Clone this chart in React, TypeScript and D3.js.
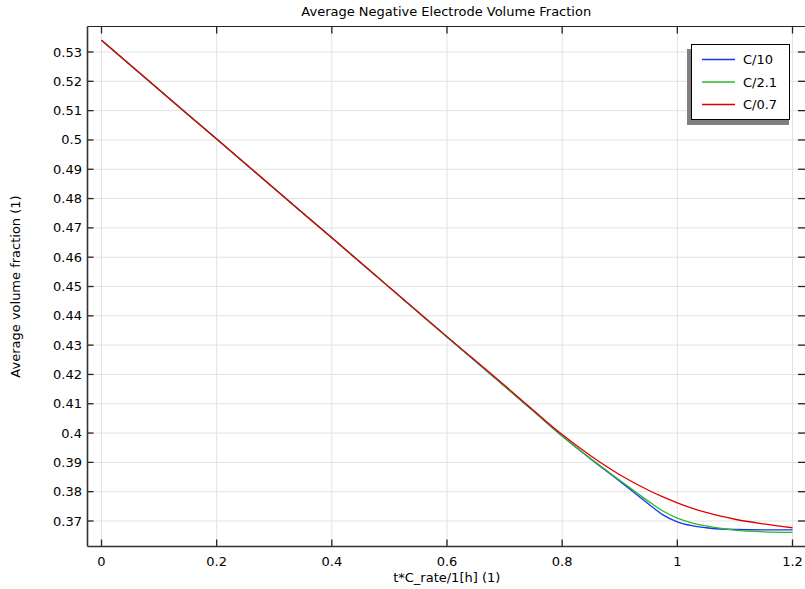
import React from "react";
import * as d3 from "d3";

const xs = [0, 0.1, 0.2, 0.3, 0.4, 0.5, 0.6, 0.7, 0.75, 0.8, 0.85, 0.9, 0.95, 0.975, 1.0, 1.025, 1.05, 1.1, 1.15, 1.2];
const c10 = [0.534, 0.5171, 0.5003, 0.4834, 0.4666, 0.4497, 0.4328, 0.416, 0.4075, 0.399, 0.3911, 0.3836, 0.3758, 0.3721, 0.3697, 0.3684, 0.3677, 0.3671, 0.367, 0.367];
const c21 = [0.534, 0.5171, 0.5003, 0.4834, 0.4666, 0.4497, 0.4328, 0.416, 0.4075, 0.399, 0.3912, 0.3839, 0.3767, 0.3734, 0.371, 0.3694, 0.3683, 0.3669, 0.3663, 0.3661];
const c07 = [0.534, 0.5171, 0.5003, 0.4834, 0.4666, 0.4497, 0.4329, 0.4163, 0.4078, 0.3995, 0.3922, 0.3858, 0.3805, 0.3782, 0.3762, 0.3744, 0.3729, 0.3706, 0.369, 0.3677];
const seriesNames = ["C/10", "C/2.1", "C/0.7"];
const seriesColors = ["#1a35f0", "#2cb82c", "#e00000"];
const xTicks = [0, 0.2, 0.4, 0.6, 0.8, 1, 1.2];
const yTicks = [0.37, 0.38, 0.39, 0.4, 0.41, 0.42, 0.43, 0.44, 0.45, 0.46, 0.47, 0.48, 0.49, 0.5, 0.51, 0.52, 0.53];

const W = 805, H = 589;
const L = 87.5, R = 806, T = 26.5, B = 546.5;
const font = "'DejaVu Sans', sans-serif";

export default function App() {
  const x = d3.scaleLinear().domain([0, 1.2]).range([101.5, 792.5]);
  const y = d3.scaleLinear().domain([0.37, 0.53]).range([521, 52]);
  const line = d3.line<number>().x((_, i) => x(xs[i])).y((d) => y(d)).curve(d3.curveMonotoneX);
  const all = [c10, c21, c07];
  const fmt = (v: number) => String(+v.toFixed(2));
  return (
    <div style={{ position: "absolute", left: 0, top: 0 }}>
      <svg width={W} height={H} style={{ display: "block", background: "#fff" }} fontFamily={font}>
        <defs>
          <clipPath id="pc"><rect x={L} y={T} width={R - L} height={B - T} /></clipPath>
        </defs>
        <text x={(L + R) / 2 - 0.5} y={16} textAnchor="middle" fontSize={13} fill="#000">Average Negative Electrode Volume Fraction</text>
        {xTicks.map((t) => (
          <line key={"gx" + t} x1={x(t)} x2={x(t)} y1={T} y2={B} stroke="#e2e2e2" strokeWidth={1} />
        ))}
        {yTicks.map((t) => (
          <line key={"gy" + t} x1={L} x2={R} y1={y(t)} y2={y(t)} stroke="#e2e2e2" strokeWidth={1} />
        ))}
        <g clipPath="url(#pc)">
          {all.map((s, i) => (
            <path key={i} d={line(s) || ""} fill="none" stroke={seriesColors[i]} strokeWidth={1.3} />
          ))}
        </g>
        {xTicks.map((t) => (
          <g key={"tx" + t}>
            <line x1={x(t)} x2={x(t)} y1={B} y2={B - 7} stroke="#222" strokeWidth={1.3} />
            <line x1={x(t)} x2={x(t)} y1={T} y2={T + 7} stroke="#222" strokeWidth={1.3} />
            <text x={x(t)} y={566} textAnchor="middle" fontSize={13} fill="#000">{fmt(t)}</text>
          </g>
        ))}
        {yTicks.map((t) => (
          <g key={"ty" + t}>
            <line x1={L} x2={L + 6} y1={y(t)} y2={y(t)} stroke="#222" strokeWidth={1.3} />
            <line x1={R - 8} x2={R} y1={y(t)} y2={y(t)} stroke="#222" strokeWidth={1.3} />
            <text x={82} y={y(t) + 4.5} textAnchor="end" fontSize={13} fill="#000">{fmt(t)}</text>
          </g>
        ))}
        <line x1={L} x2={R} y1={T} y2={T} stroke="#222" strokeWidth={1.2} />
        <line x1={L} x2={R} y1={B} y2={B} stroke="#333" strokeWidth={1.6} />
        <line x1={L} x2={L} y1={T} y2={B} stroke="#333" strokeWidth={1.6} />
        <text x={(L + R) / 2} y={582} textAnchor="middle" fontSize={13} fill="#000">t*C_rate/1[h] (1)</text>
        <text transform={`translate(20,${(T + B) / 2}) rotate(-90)`} textAnchor="middle" fontSize={13} fill="#000">Average volume fraction (1)</text>
        <g>
          <rect x={687} y={49} width={102} height={76} fill="#808080" />
          <rect x={691.5} y={44.5} width={98} height={75} fill="#fff" stroke="#000" strokeWidth={1} />
          {seriesNames.map((n, i) => (
            <g key={n}>
              <line x1={702} x2={735} y1={59.5 + i * 22.5} y2={59.5 + i * 22.5} stroke={seriesColors[i]} strokeWidth={1.3} />
              <text x={743} y={64 + i * 22.5} fontSize={13} fill="#000">{n}</text>
            </g>
          ))}
        </g>
      </svg>
    </div>
  );
}
